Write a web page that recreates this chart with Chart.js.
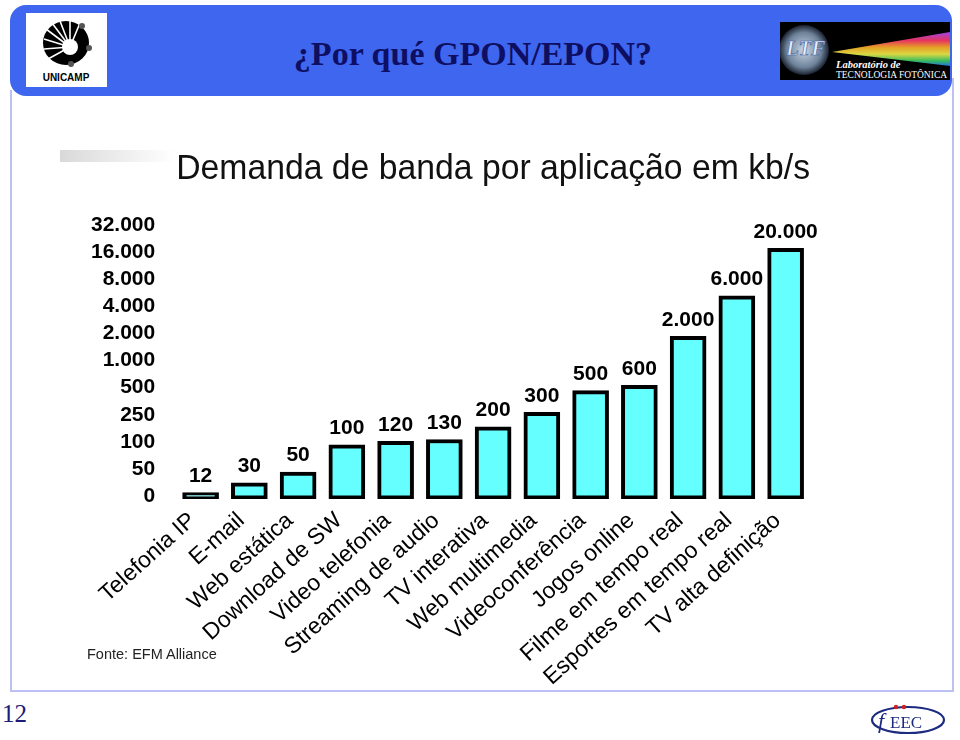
<!DOCTYPE html>
<html>
<head>
<meta charset="utf-8">
<script src="https://cdn.jsdelivr.net/npm/chart.js@4.4.1/dist/chart.umd.min.js"></script>
<style>
  body { margin:0; width:960px; height:740px; position:relative; background:#fff; overflow:hidden; font-family:"Liberation Sans", Arial, sans-serif; }
  .cabecalho { position:absolute; left:10px; top:5px; width:942px; height:91px; background:#3f66ee; border-radius:16px; }
  .titulo { position:absolute; left:0; top:35px; width:946px; text-align:center; font-family:"Liberation Serif","Times New Roman",serif; font-weight:bold; font-size:34px; color:#0e0e62; }
  .moldura-e { position:absolute; left:10px; top:90px; width:2px; height:602px; background:#bcc0f2; }
  .moldura-b { position:absolute; left:10px; top:690px; width:944px; height:2px; background:#bcc0f2; }
  .moldura-d { position:absolute; left:952px; top:78px; width:2px; height:614px; background:#bcc0f2; }
  .sombra { position:absolute; left:60px; top:150px; width:115px; height:12px; background:linear-gradient(to right, #d9d9d9, rgba(255,255,255,0)); }
  #grafico { position:absolute; left:60px; top:140px; width:870px; height:559px; }
  .fonte { position:absolute; left:87px; top:646px; font-size:14.5px; color:#222; }
  .pagina { position:absolute; left:2px; top:700px; font-family:"Liberation Serif","Times New Roman",serif; font-size:25px; color:#1c1c78; }
</style>
</head>
<body>
<div class="cabecalho"></div>
<div class="moldura-e"></div>
<div class="moldura-b"></div>
<div class="moldura-d"></div>

<!-- logo unicamp -->
<svg style="position:absolute;left:26px;top:13px" width="81" height="74" viewBox="0 0 81 74">
  <rect width="81" height="74" fill="#fff"/>
  <ellipse cx="40" cy="30" rx="23" ry="22" fill="#000"/>
  <circle cx="44" cy="34" r="8" fill="#fff"/>
  <g stroke="#fff" stroke-width="1.6">
    <line x1="44" y1="34" x2="20" y2="16"/><line x1="44" y1="34" x2="26" y2="10"/>
    <line x1="44" y1="34" x2="34" y2="8"/><line x1="44" y1="34" x2="44" y2="8"/>
    <line x1="44" y1="34" x2="54" y2="10"/><line x1="44" y1="34" x2="18" y2="26"/>
    <line x1="44" y1="34" x2="18" y2="36"/><line x1="44" y1="34" x2="22" y2="46"/>
  </g>
  <circle cx="56" cy="13" r="3" fill="#555"/><circle cx="63" cy="35" r="3" fill="#555"/><circle cx="45" cy="51" r="3" fill="#555"/>
  <text x="40" y="68" text-anchor="middle" font-family="Liberation Sans" font-weight="bold" font-size="10" fill="#000">UNICAMP</text>
</svg>

<!-- logo LTF -->
<svg style="position:absolute;left:780px;top:22px" width="170" height="58" viewBox="0 0 170 58">
  <defs>
    <radialGradient id="brilho" cx="0.5" cy="0.5" r="0.5">
      <stop offset="0" stop-color="#c9d6e6"/><stop offset="0.7" stop-color="#6d8299"/><stop offset="1" stop-color="#1a2230"/>
    </radialGradient>
    <linearGradient id="arco" x1="0" y1="0" x2="0" y2="1">
      <stop offset="0" stop-color="#b04cff"/><stop offset="0.25" stop-color="#ff3a6a"/><stop offset="0.45" stop-color="#ffb12a"/>
      <stop offset="0.65" stop-color="#f4f04a"/><stop offset="0.85" stop-color="#3ad06a"/><stop offset="1" stop-color="#2a7cff"/>
    </linearGradient>
  </defs>
  <rect width="170" height="58" fill="#000"/>
  <circle cx="24" cy="28" r="25" fill="url(#brilho)"/>
  <polygon points="52,30 170,10 170,44" fill="url(#arco)" opacity="0.9"/>
  <text x="6" y="33" font-family="Liberation Serif" font-style="italic" font-weight="bold" font-size="21" fill="#e8eefc" stroke="#3a5a9a" stroke-width="0.6">LTF</text>
  <text x="56" y="46" font-family="Liberation Serif" font-style="italic" font-weight="bold" font-size="10.5" fill="#fff">Laboratório de</text>
  <text x="56" y="56" font-family="Liberation Serif" font-size="9.5" fill="#fff">TECNOLOGIA FOTÔNICA</text>
</svg>

<div class="titulo">¿Por qué GPON/EPON?</div>
<div class="sombra"></div>
<div id="grafico"><canvas id="cv-banda" width="870" height="559"></canvas></div>
<div class="fonte">Fonte: EFM Alliance</div>
<div class="pagina">12</div>

<!-- logo feec -->
<svg style="position:absolute;left:868px;top:696px" width="80" height="42" viewBox="0 0 80 42">
  <ellipse cx="40" cy="24" rx="36" ry="13" fill="none" stroke="#1c2a80" stroke-width="2.2"/>
  <text x="10" y="32" font-family="Liberation Serif" font-style="italic" font-size="22" fill="#1c2a80">f</text>
  <text x="22" y="32" font-family="Liberation Serif" font-size="17" fill="#1c2a80">EEC</text>
  <circle cx="28" cy="11" r="2.2" fill="#d02020"/><circle cx="36" cy="11" r="2.2" fill="#d02020"/>
</svg>

<script>
// ====== dados ======
const APLICACOES = ['Telefonia IP','E-mail','Web estática','Download de SW','Video telefonia','Streaming de audio','TV interativa','Web multimedia','Videoconferência','Jogos online','Filme em tempo real','Esportes em tempo real','TV alta definição'];
const BANDA_KBPS = [12, 30, 50, 100, 120, 130, 200, 300, 500, 600, 2000, 6000, 20000];
// escala do eixo: degraus igualmente espaçados
const ESCALA = [0, 50, 100, 250, 500, 1000, 2000, 4000, 8000, 16000, 32000];
const ESCALA_TXT = ['0','50','100','250','500','1.000','2.000','4.000','8.000','16.000','32.000'];

// valor em kb/s -> posição no eixo (interpolação linear entre degraus)
function nivel(v) {
  for (let i = 1; i < ESCALA.length; i++) {
    if (v <= ESCALA[i]) return (i - 1) + (v - ESCALA[i-1]) / (ESCALA[i] - ESCALA[i-1]);
  }
  return ESCALA.length - 1;
}
function fmt(v) { return v.toString().replace(/\B(?=(\d{3})+(?!\d))/g, '.'); }

// rótulos de valor sobre as barras
const rotulosValor = {
  id: 'rotulosValor',
  afterDatasetsDraw(chart) {
    const ctx = chart.ctx;
    const meta = chart.getDatasetMeta(0);
    ctx.save();
    ctx.font = 'bold 21px "Liberation Sans", Arial, sans-serif';
    ctx.fillStyle = '#000';
    ctx.textAlign = 'center';
    ctx.textBaseline = 'bottom';
    meta.data.forEach((bar, i) => {
      ctx.fillText(fmt(BANDA_KBPS[i]), bar.x, bar.y - 6);
    });
    ctx.restore();
  }
};

const ctx = document.getElementById('cv-banda').getContext('2d');
new Chart(ctx, {
  type: 'bar',
  data: {
    labels: APLICACOES,
    datasets: [{
      data: BANDA_KBPS.map(nivel),
      backgroundColor: '#66ffff',
      borderColor: '#000',
      borderWidth: 4,
      borderSkipped: false,
      barThickness: 36
    }]
  },
  options: {
    responsive: false,
    animation: false,
    layout: { padding: { left: 10, right: 120, top: 0, bottom: 0 } },
    plugins: {
      legend: { display: false },
      tooltip: { enabled: false },
      title: {
        display: true,
        fullSize: false,
        text: 'Demanda de banda por aplicação em kb/s',
        color: '#111',
        font: { family: '"Liberation Sans", Arial, sans-serif', size: 35, weight: 'normal' },
        padding: { top: 8, bottom: 38 }
      }
    },
    scales: {
      y: {
        min: 0, max: 10,
        grid: { display: false, drawTicks: false },
        border: { display: false },
        ticks: {
          stepSize: 1,
          autoSkip: false,
          padding: 21,
          labelOffset: -3,
          color: '#000',
          font: { family: '"Liberation Sans", Arial, sans-serif', size: 21, weight: 'bold' },
          callback: v => ESCALA_TXT[v]
        }
      },
      x: {
        grid: { display: false, drawTicks: false },
        border: { display: false },
        ticks: {
          autoSkip: false,
          minRotation: 42, maxRotation: 42,
          padding: 8,
          labelOffset: -8,
          color: '#000',
          font: { family: '"Liberation Sans", Arial, sans-serif', size: 23 }
        }
      }
    }
  },
  plugins: [rotulosValor]
});
</script>
</body>
</html>
